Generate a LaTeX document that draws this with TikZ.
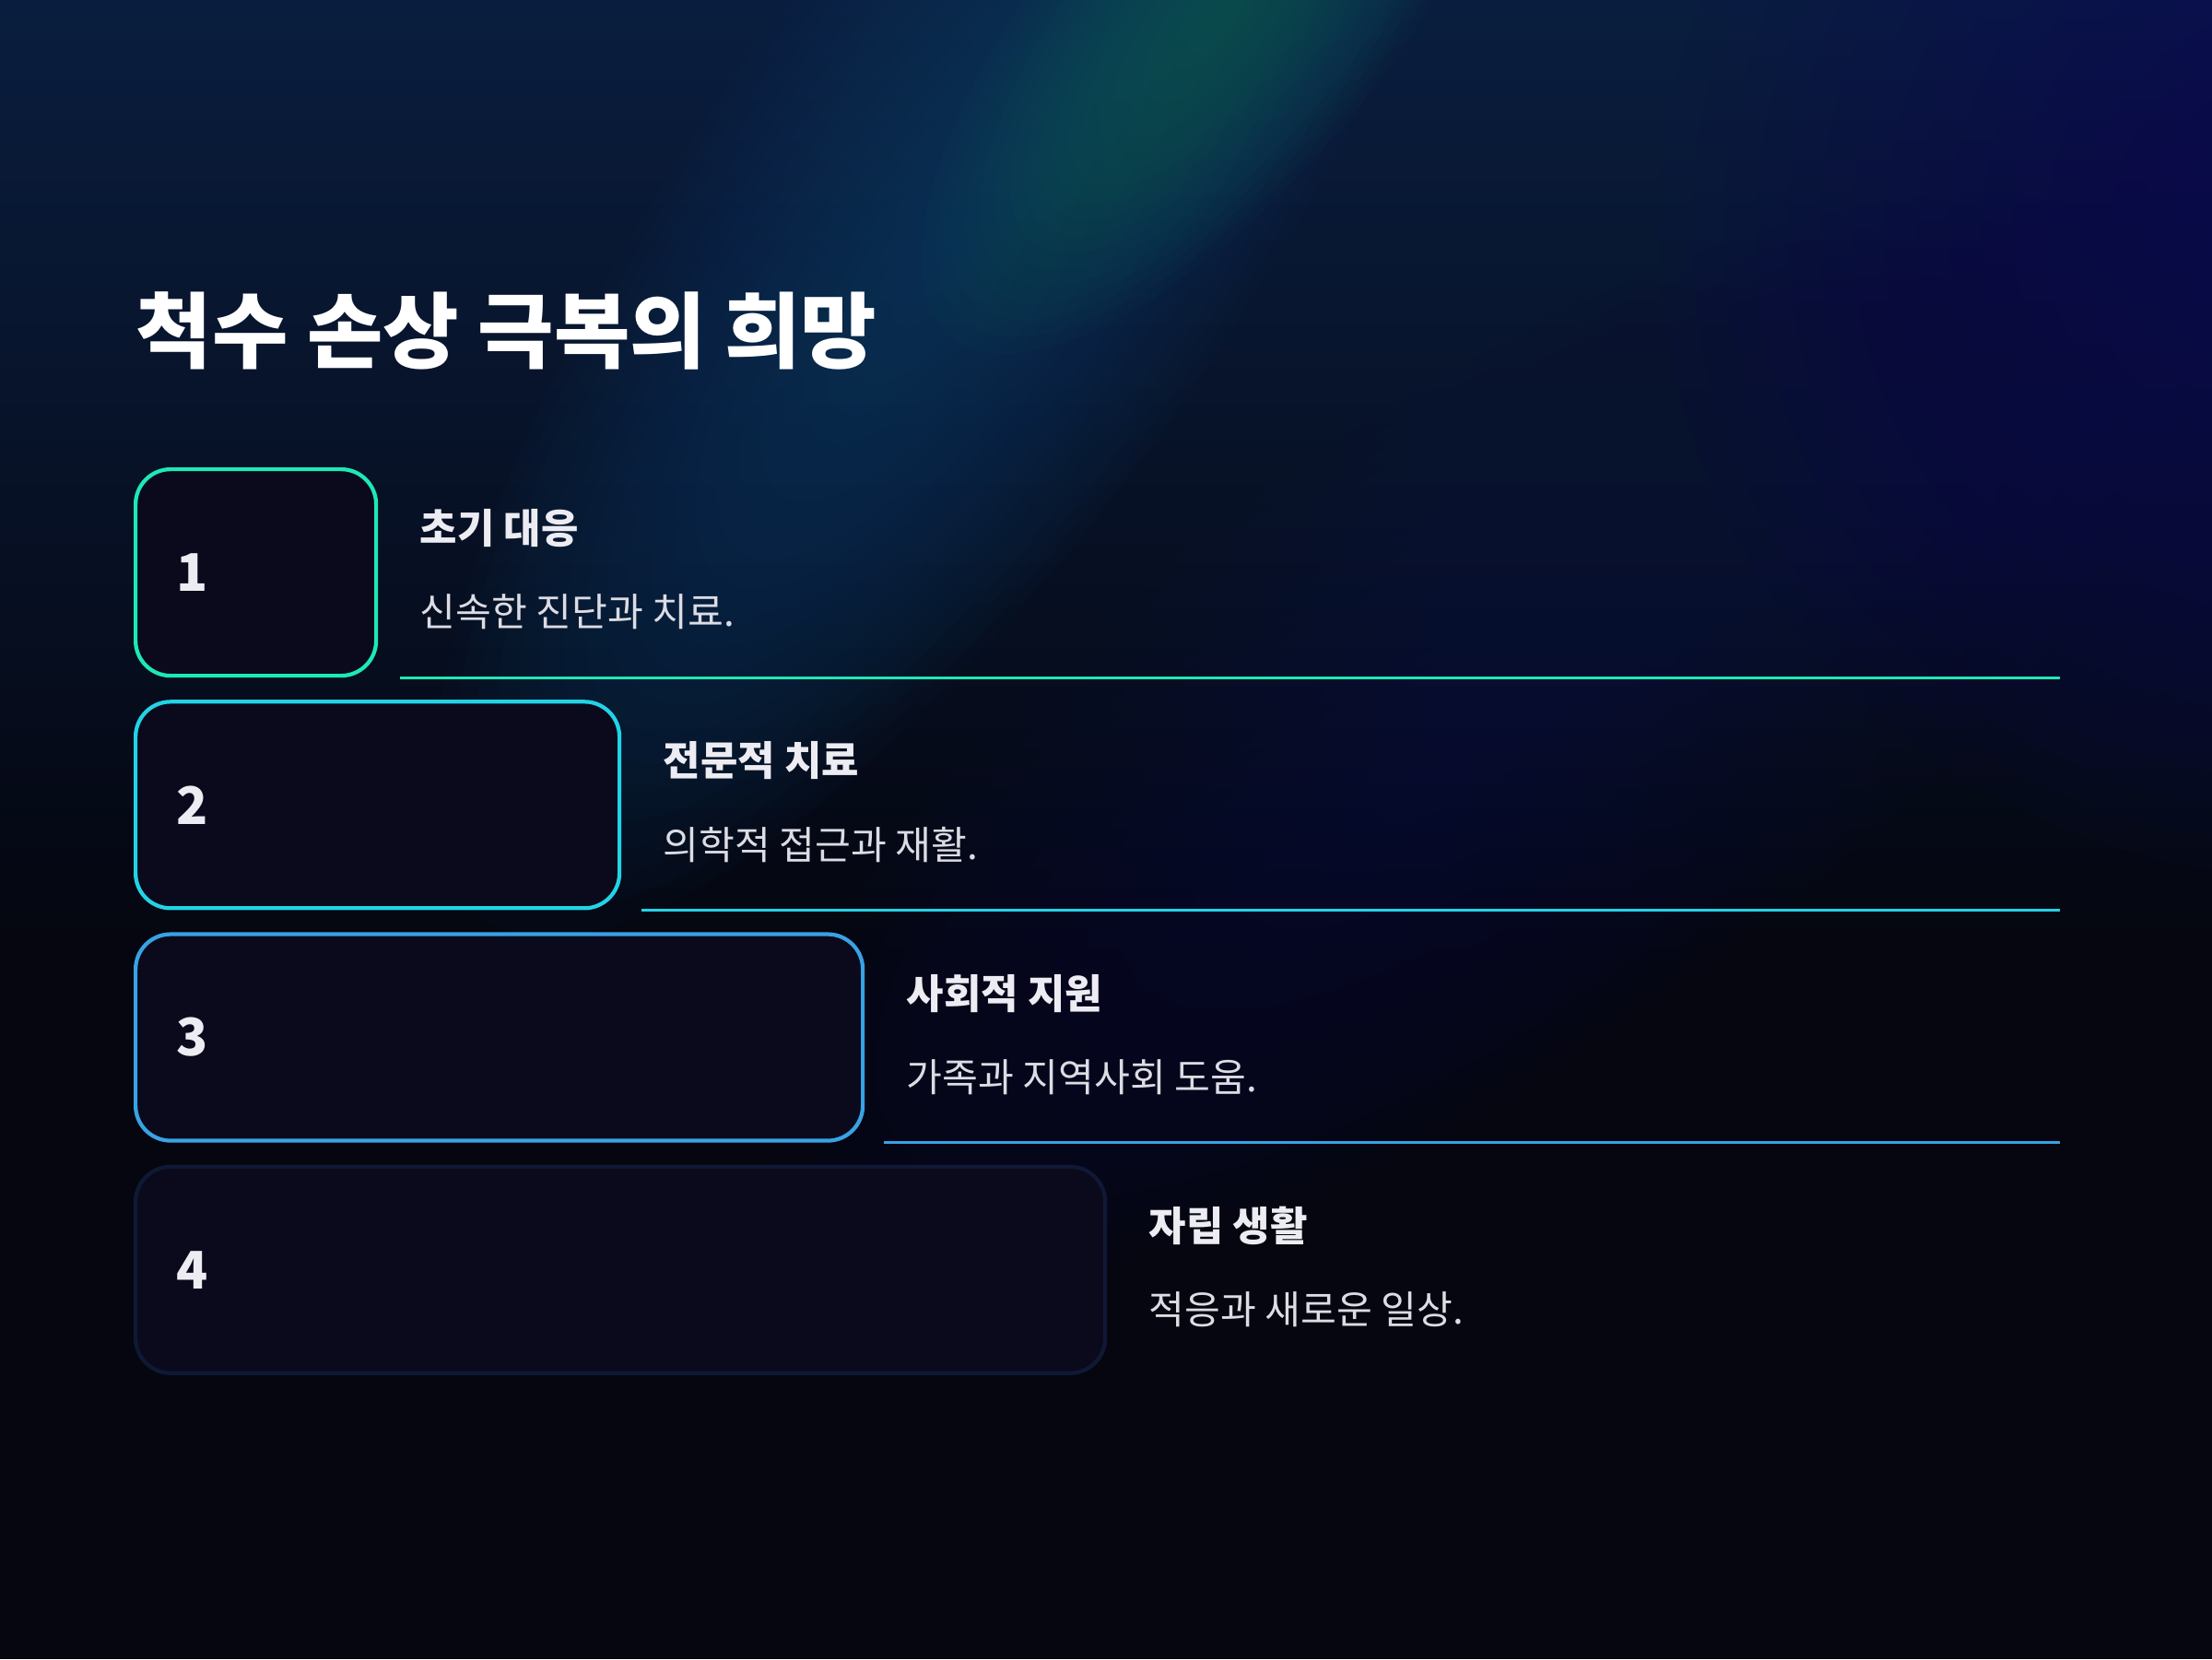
\documentclass[tikz,border=0pt]{standalone}
\usepackage{fontspec}
\setmainfont{Noto Sans CJK KR}
\usetikzlibrary{positioning,fadings}

\definecolor{bgbase}{HTML}{05060F}
\definecolor{hazeblue}{HTML}{0A1E3F}
\definecolor{bandblue}{HTML}{0B3E68}
\definecolor{bandteal}{HTML}{13665E}
\definecolor{glowpurple}{HTML}{0C0A5E}
\definecolor{midnavy}{HTML}{0B1240}
\definecolor{boxfill}{HTML}{0A0A1C}
\definecolor{stepa}{HTML}{1DE9B6}
\definecolor{stepb}{HTML}{22D3E6}
\definecolor{stepc}{HTML}{38A2E4}
\definecolor{stepd}{HTML}{0F1936}
\definecolor{txtmain}{HTML}{ECECF2}
\definecolor{txtsub}{HTML}{DCDCE4}

\begin{document}
\begin{tikzpicture}[
                    stepbox/.style={
                        rectangle,
                        rounded corners=0.38cm,
                        fill=boxfill,
                        line width=1.2pt,
                        minimum height=2.24cm,
                        inner sep=0pt
                    },
                    numtext/.style={
                        font=\fontsize{16}{18}\selectfont\bfseries,
                        text=txtmain,
                        inner sep=0pt,
                        anchor=west
                    },
                    headtext/.style={
                        font=\fontsize{12.5}{15}\selectfont\bfseries,
                        text=txtmain,
                        inner sep=0pt,
                        anchor=west
                    },
                    subtext/.style={
                        font=\fontsize{12}{14}\selectfont,
                        text=txtsub,
                        inner sep=0pt,
                        anchor=west
                    },
                    rowline/.style={
                        line width=0.9pt
                    },
                    glowlayer/.style={
                        fill opacity=0.05
                    }
                ]
                    
                    % Background
                    \fill[bgbase] (0,0) rectangle (24,18);
                    \useasboundingbox (0,0) rectangle (24,18);
                    \fill[hazeblue, path fading=south] (0,7.5) rectangle (24,18);
                    \begin{scope}[shift={(16,10)}, rotate=35]
                        \foreach \k in {1,...,20}
                            \fill[midnavy, glowlayer] (0,0) ellipse ({9*\k/20} and {3.5*\k/20});
                    \end{scope}
                    \begin{scope}[shift={(25,15.5)}]
                        \foreach \k in {1,...,20}
                            \fill[glowpurple, glowlayer] (0,0) ellipse ({7*\k/20} and {7*\k/20});
                    \end{scope}
                    \begin{scope}[shift={(10.4,15.4)}, rotate=55]
                        \foreach \k in {1,...,24}
                            \fill[bandblue, glowlayer] (0,0) ellipse ({9*\k/24} and {3*\k/24});
                    \end{scope}
                    \begin{scope}[shift={(13.2,17.8)}, rotate=50]
                        \foreach \k in {1,...,20}
                            \fill[bandteal, glowlayer] (0,0) ellipse ({4.5*\k/20} and {1.8*\k/20});
                    \end{scope}
                    
                    % Title
                    \node[font=\fontsize{25.5}{30}\selectfont\bfseries, text=white, inner sep=0pt, anchor=west] (title) at (1.47,14.41) {척수 손상 극복의 희망};
                    
                    \coordinate (rend) at (22.35,0);
                    
                    % Steps
                    \node[stepbox, draw=stepa, minimum width=2.61cm, anchor=north west] (box1) at (1.45,12.93) {};
                    \node[stepbox, draw=stepb, minimum width=5.25cm, below=0.24cm of box1.south west, anchor=north west] (box2) {};
                    \node[stepbox, draw=stepc, minimum width=7.89cm, below=0.24cm of box2.south west, anchor=north west] (box3) {};
                    \node[stepbox, draw=stepd, minimum width=10.52cm, below=0.24cm of box3.south west, anchor=north west] (box4) {};
                    
                    \node[numtext] (n1) at ([xshift=0.46cm]box1.west) {1};
                    \node[numtext] (n2) at ([xshift=0.46cm]box2.west) {2};
                    \node[numtext] (n3) at ([xshift=0.46cm]box3.west) {3};
                    \node[numtext] (n4) at ([xshift=0.46cm]box4.west) {4};
                    
                    \node[headtext] (h1) at ([xshift=0.45cm, yshift=0.48cm]box1.east) {초기 대응};
                    \node[subtext] (s1) at ([xshift=0.45cm, yshift=-0.43cm]box1.east) {신속한 진단과 치료.};
                    \node[headtext] (h2) at ([xshift=0.45cm, yshift=0.48cm]box2.east) {전문적 치료};
                    \node[subtext] (s2) at ([xshift=0.45cm, yshift=-0.43cm]box2.east) {의학적 접근과 재활.};
                    \node[headtext] (h3) at ([xshift=0.45cm, yshift=0.48cm]box3.east) {사회적 지원};
                    \node[subtext] (s3) at ([xshift=0.45cm, yshift=-0.43cm]box3.east) {가족과 지역사회 도움.};
                    \node[headtext] (h4) at ([xshift=0.45cm, yshift=0.48cm]box4.east) {자립 생활};
                    \node[subtext] (s4) at ([xshift=0.45cm, yshift=-0.43cm]box4.east) {적응과 새로운 일상.};
                    
                    % Rules
                    \draw[rowline, stepa] ([xshift=0.24cm]box1.south east) -- (box1.south east -| rend);
                    \draw[rowline, stepb] ([xshift=0.22cm]box2.south east) -- (box2.south east -| rend);
                    \draw[rowline, stepc] ([xshift=0.21cm]box3.south east) -- (box3.south east -| rend);
                \end{tikzpicture}
\end{document}
